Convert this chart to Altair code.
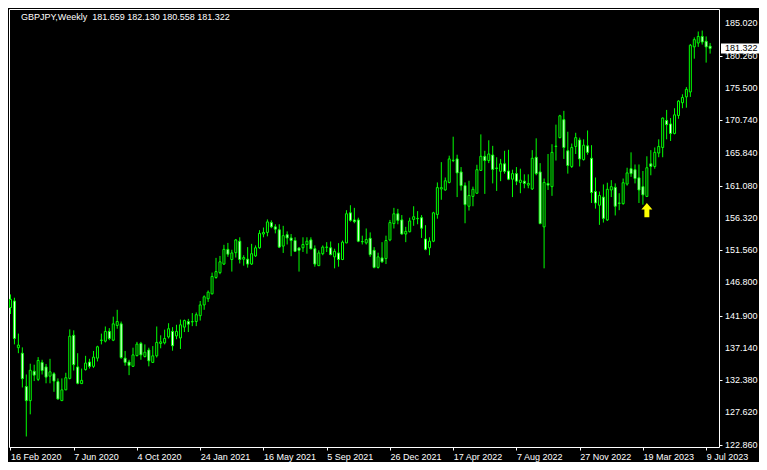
import json
import altair as alt
import pandas as pd

symbol = "GBPJPY"
period = "Weekly"

opens = [
    143.09, 144.06, 137.17, 136.36, 131.44, 129.36, 133.70, 132.50, 135.00, 134.33,
    132.97, 133.32, 132.16, 129.36, 130.95, 132.64, 139.00, 134.33, 131.87, 133.94,
    135.06, 134.42, 135.63, 138.24, 138.14, 139.58, 138.28, 140.45, 140.69, 135.63,
    135.06, 134.42, 136.01, 137.80, 135.87, 136.83, 135.00, 135.97, 137.80, 137.89,
    138.76, 139.58, 138.90, 138.61, 140.20, 141.03, 140.98, 141.03, 141.89, 143.48,
    144.39, 145.12, 147.53, 148.25, 149.51, 151.68, 150.18, 151.19, 152.88, 150.23,
    150.23, 149.51, 150.71, 151.91, 153.94, 154.18, 155.63, 155.00, 154.57, 152.16,
    153.85, 153.36, 152.98, 151.87, 151.91, 152.40, 153.07, 151.77, 149.27, 151.04,
    151.97, 151.91, 150.57, 151.15, 150.18, 152.63, 157.07, 156.02, 156.02, 152.84,
    152.63, 153.31, 151.54, 149.02, 150.42, 150.32, 153.07, 155.48, 156.93, 156.02,
    153.94, 154.28, 156.10, 156.20, 156.35, 153.21, 151.91, 152.88, 156.83, 160.59,
    160.44, 161.55, 164.78, 165.02, 163.10, 161.08, 158.04, 159.49, 159.96, 163.33,
    165.41, 164.78, 165.60, 163.68, 163.19, 164.30, 163.24, 162.03, 162.85, 161.55,
    161.74, 161.16, 160.59, 165.27, 163.10, 155.00, 161.41, 160.93, 166.86, 168.16,
    170.81, 166.22, 163.91, 166.86, 167.81, 164.92, 166.95, 165.12, 160.21, 158.19,
    159.39, 156.02, 160.44, 160.83, 158.52, 158.42, 161.31, 163.58, 163.43, 162.23,
    160.93, 159.49, 164.30, 163.91, 165.89, 166.71, 170.70, 170.18, 168.78, 171.43,
    173.31, 174.17, 174.90, 181.55, 182.12, 183.09, 182.37, 181.659,
]
highs = [
    145.03, 144.54, 139.25, 137.22, 133.22, 134.81, 134.66, 135.78, 135.39, 134.77,
    135.53, 133.55, 132.64, 132.64, 133.47, 139.87, 139.73, 136.36, 134.09, 135.97,
    135.53, 136.69, 137.46, 139.25, 140.30, 140.06, 141.75, 142.76, 141.03, 136.69,
    135.39, 137.17, 138.03, 138.03, 137.66, 137.17, 137.41, 140.30, 139.00, 139.83,
    140.78, 140.20, 140.55, 141.32, 141.32, 141.42, 142.28, 142.37, 144.06, 144.89,
    145.61, 148.25, 150.42, 150.71, 152.35, 152.63, 151.62, 153.21, 153.46, 150.81,
    152.01, 152.49, 152.26, 154.51, 154.90, 156.10, 155.96, 155.38, 155.38, 155.15,
    154.33, 153.94, 153.46, 152.01, 153.46, 153.46, 153.46, 152.26, 151.54, 152.26,
    152.74, 152.84, 151.77, 152.59, 152.98, 157.46, 158.19, 157.80, 156.35, 153.70,
    154.76, 154.18, 152.01, 151.19, 152.74, 153.70, 156.02, 157.80, 157.65, 156.74,
    155.00, 156.35, 158.04, 157.32, 156.74, 155.24, 153.46, 157.22, 161.55, 164.55,
    162.28, 165.50, 168.30, 165.64, 163.82, 161.55, 161.80, 160.93, 164.16, 168.64,
    166.22, 167.77, 166.95, 165.27, 165.02, 166.22, 166.37, 163.43, 163.82, 163.58,
    162.75, 162.75, 166.32, 168.06, 164.40, 162.13, 165.75, 167.19, 170.08, 171.53,
    172.11, 169.03, 167.29, 168.88, 168.16, 167.91, 169.22, 167.05, 162.28, 160.21,
    161.26, 161.51, 161.89, 161.41, 159.96, 162.13, 163.72, 165.99, 164.20, 164.20,
    163.24, 165.41, 166.32, 166.71, 167.91, 171.14, 172.25, 171.05, 172.50, 173.70,
    174.56, 175.62, 181.98, 182.95, 183.82, 183.96, 183.09, 182.130,
]
lows = [
    142.14, 137.66, 136.36, 131.30, 124.07, 127.34, 132.25, 132.25, 133.22, 131.92,
    131.92, 130.66, 129.50, 129.30, 130.91, 132.50, 133.80, 131.77, 131.82, 133.80,
    134.09, 134.19, 135.14, 137.66, 137.95, 138.28, 138.14, 139.97, 135.53, 134.52,
    133.12, 134.35, 135.87, 135.39, 135.72, 134.42, 134.91, 135.72, 137.08, 137.66,
    138.53, 136.73, 138.42, 136.98, 139.48, 139.48, 140.35, 140.35, 141.17, 142.76,
    143.92, 145.03, 147.34, 148.01, 149.37, 150.57, 148.40, 150.47, 149.60, 149.27,
    148.98, 149.37, 150.57, 151.77, 153.46, 153.60, 154.80, 154.04, 151.87, 151.15,
    152.40, 150.67, 151.29, 148.40, 151.29, 151.04, 151.68, 149.12, 149.22, 150.81,
    151.29, 150.81, 148.88, 149.12, 150.09, 152.59, 155.77, 155.53, 152.74, 152.40,
    152.40, 150.57, 148.88, 148.85, 149.70, 149.51, 152.88, 154.76, 155.38, 153.85,
    152.74, 154.18, 155.15, 155.38, 153.36, 151.54, 150.81, 152.74, 156.20, 159.00,
    160.35, 161.41, 164.55, 159.39, 160.35, 155.53, 157.40, 158.04, 159.86, 163.24,
    159.86, 164.40, 161.41, 160.30, 161.74, 162.85, 161.89, 159.39, 161.16, 159.96,
    160.69, 160.69, 160.44, 162.61, 155.38, 148.88, 160.44, 159.57, 164.78, 168.06,
    165.02, 162.85, 163.68, 165.75, 163.91, 164.78, 165.64, 158.52, 157.69, 155.29,
    155.63, 155.87, 159.39, 156.68, 157.46, 158.27, 161.08, 162.38, 161.41, 158.52,
    158.27, 159.39, 162.61, 163.58, 165.27, 165.27, 167.91, 167.67, 168.64, 170.95,
    172.50, 172.58, 174.17, 179.81, 181.55, 181.89, 179.23, 180.558,
]
closes = [
    144.31, 138.53, 137.56, 132.60, 129.36, 133.84, 133.12, 135.29, 133.80, 132.83,
    133.61, 132.25, 129.61, 130.95, 132.74, 138.86, 134.67, 131.92, 132.35, 134.91,
    134.42, 135.78, 137.31, 138.30, 139.58, 138.53, 140.69, 141.03, 135.72, 135.00,
    134.56, 136.11, 137.70, 136.11, 136.50, 135.24, 135.97, 137.95, 138.03, 138.53,
    139.97, 137.46, 139.58, 140.55, 141.17, 140.64, 141.03, 142.04, 143.48, 144.68,
    145.36, 147.68, 148.40, 149.84, 151.68, 150.96, 151.15, 153.07, 150.18, 150.47,
    149.51, 151.04, 151.91, 154.04, 154.18, 155.73, 155.00, 154.66, 152.01, 153.70,
    153.36, 152.98, 151.39, 151.54, 152.40, 152.88, 151.77, 149.51, 151.15, 152.01,
    152.02, 150.90, 151.39, 150.18, 152.74, 156.93, 155.96, 155.77, 152.88, 152.80,
    153.13, 150.90, 149.02, 150.57, 149.84, 152.98, 155.63, 156.93, 155.96, 153.94,
    154.33, 155.87, 156.49, 156.25, 154.80, 151.68, 152.88, 157.07, 160.79, 160.79,
    161.80, 165.02, 164.83, 162.96, 161.08, 158.27, 159.63, 160.54, 163.43, 165.41,
    164.78, 165.75, 163.48, 163.63, 164.30, 163.19, 162.03, 162.85, 161.74, 161.89,
    161.41, 161.41, 165.12, 162.85, 155.48, 161.55, 161.16, 165.99, 166.91, 171.38,
    166.71, 164.05, 166.71, 168.16, 165.02, 167.05, 165.99, 160.06, 158.52, 159.63,
    156.25, 160.54, 160.93, 158.04, 158.47, 161.51, 162.96, 162.85, 162.13, 160.44,
    159.72, 163.72, 163.91, 165.99, 166.86, 171.05, 170.08, 168.78, 171.53, 173.55,
    174.09, 175.29, 181.79, 182.62, 183.09, 182.27, 181.55, 181.322,
]

tick_bars = [0, 16, 32, 48, 64, 80, 96, 112, 128, 144, 160, 176]
tick_labels = ["16 Feb 2020", "7 Jun 2020", "4 Oct 2020", "24 Jan 2021",
               "16 May 2021", "5 Sep 2021", "26 Dec 2021", "17 Apr 2022",
               "7 Aug 2022", "27 Nov 2022", "19 Mar 2023", "9 Jul 2023"]
price_ticks = [185.02, 180.26, 175.50, 170.74, 165.84, 161.08, 156.32,
               151.56, 146.80, 141.90, 137.14, 132.38, 127.62, 122.86]
signal_bar = [161]
signal_price = [157.48]

GREEN = "#00ff00"
FONT = "Liberation Sans"
W, H = 710, 438

n = len(opens)
df = pd.DataFrame({"bar": list(range(n)), "open": opens, "high": highs,
                   "low": lows, "close": closes})
df["fill"] = ["#000000" if c >= o else "#ffffff" for o, c in zip(opens, closes)]

xscale = alt.Scale(domain=[-0.375, 179.25], nice=False, zero=False, padding=0)
yscale = alt.Scale(domain=[122.52, 187.14], nice=False, zero=False, padding=0)

label_expr = f"{json.dumps(tick_labels)}[indexof({json.dumps(tick_bars)}, datum.value)]"
xaxis = alt.Axis(values=tick_bars, labelExpr=label_expr, orient="bottom", grid=False,
                 domain=False, ticks=True, tickColor="white", tickSize=3,
                 labelColor="white", labelFont=FONT, labelFontSize=9,
                 labelAlign="left", labelBaseline="top", labelPadding=2,
                 labelFlush=False, labelOverlap=False, title=None)
yaxis = alt.Axis(values=price_ticks, orient="right", grid=False, domain=False,
                 ticks=True, tickColor="white", tickSize=3, labels=False, title=None)

base = alt.Chart(df)
wicks = base.mark_rule(color=GREEN, strokeWidth=1).encode(
    x=alt.X("bar:Q", scale=xscale, axis=xaxis),
    y=alt.Y("low:Q", scale=yscale, axis=yaxis),
    y2="high:Q",
)
bodies = base.mark_bar(width=2, stroke=GREEN, strokeWidth=1).encode(
    x=alt.X("bar:Q", scale=xscale),
    y=alt.Y("open:Q", scale=yscale),
    y2="close:Q",
    fill=alt.Fill("fill:N", scale=None),
)

ylabels_df = pd.DataFrame({"price": price_ticks,
                           "label": [f"{p:.3f}" for p in price_ticks]})
ylabels = alt.Chart(ylabels_df).mark_text(
    align="left", baseline="middle", color="white", font=FONT, fontSize=9
).encode(x=alt.value(W + 6), y=alt.Y("price:Q", scale=yscale), text="label:N")

title_text = f"{symbol},{period}\u00a0 {opens[-1]:.3f} {highs[-1]:.3f} {lows[-1]:.3f} {closes[-1]:.3f}"
title = alt.Chart(pd.DataFrame({"t": [title_text]})).mark_text(
    align="left", baseline="middle", color="white", font=FONT, fontSize=9
).encode(x=alt.value(12), y=alt.value(8), text="t:N")

last_df = pd.DataFrame({"close": [closes[-1]], "label": [f"{closes[-1]:.3f}"]})
box = alt.Chart(last_df).mark_point(
    shape="M-3.8,-1H3.8V1H-3.8Z", filled=True, color="white", opacity=1, size=100
).encode(x=alt.value(W + 21), y=alt.Y("close:Q", scale=yscale))
box_text = alt.Chart(last_df).mark_text(
    align="left", baseline="middle", color="black", font=FONT, fontSize=9
).encode(x=alt.value(W + 6), y=alt.Y("close:Q", scale=yscale), text="label:N")

arrow = alt.Chart(pd.DataFrame({"bar": signal_bar, "price": signal_price})).mark_point(
    shape="M0,-1.3L1,-0.1L0.45,-0.1L0.45,1.3L-0.45,1.3L-0.45,-0.1L-1,-0.1Z",
    filled=True, color="#ffff00", opacity=1, size=121,
).encode(x=alt.X("bar:Q", scale=xscale), y=alt.Y("price:Q", scale=yscale))

chart = alt.layer(wicks, bodies, arrow, title, ylabels, box, box_text).properties(
    width=W, height=H,
    autosize=alt.AutoSizeParams(type="none"),
    padding={"left": 1, "top": 1, "right": 40, "bottom": 15},
    background="black",
).configure_view(stroke="white", strokeWidth=1)

chart.save("out.html", embed_options={"renderer": "svg", "actions": False})
